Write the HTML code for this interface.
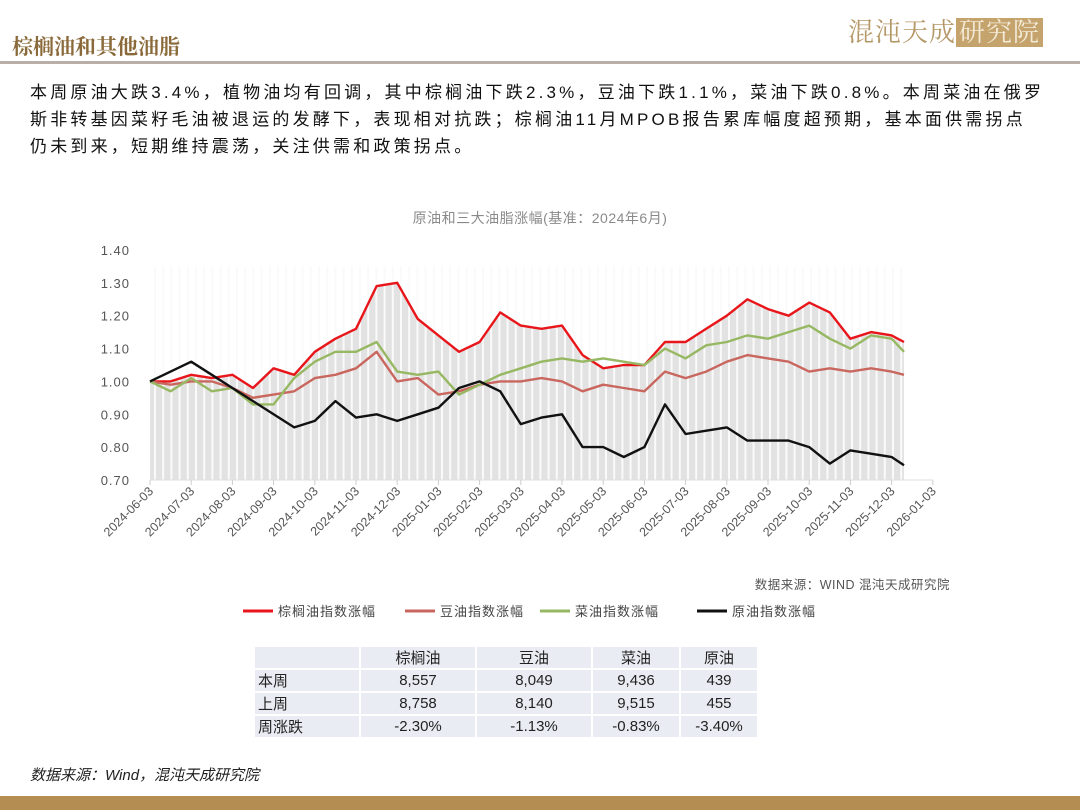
<!DOCTYPE html>
<html><head><meta charset="utf-8">
<style>
body{margin:0;width:1080px;height:810px;background:#fff;position:relative;overflow:hidden;font-family:"Liberation Sans","Noto Sans CJK SC",sans-serif;}
.abs{position:absolute;}
#title{left:12px;top:31px;font-size:21px;color:#8a6a3a;font-family:"Liberation Serif","Noto Serif CJK SC",serif;font-weight:bold;}
#logo{left:848px;top:12px;font-size:26px;color:#b59868;letter-spacing:1px;font-family:"Liberation Serif","Noto Serif CJK SC",serif;}
#logo span{background:#c4a46c;color:#f4ead8;padding:0 3px;}
#rule{left:0;top:61px;width:1080px;height:3px;background:#b8b0a6;}
#para{left:30px;top:79px;width:1040px;font-size:17px;line-height:27px;color:#111;white-space:nowrap;letter-spacing:3.2px;}
table{position:absolute;left:253px;top:645px;border-collapse:collapse;font-size:15px;color:#222;table-layout:fixed;}
td{background:#e9edf3;border:2px solid #fff;height:18px;padding:0;text-align:center;}
td.h{text-align:left;padding-left:3px;}
#src2{left:30px;top:764px;font-size:15px;font-style:italic;color:#222;}
#bottom{left:0;top:796px;width:1080px;height:14px;background:#b38d52;}
</style></head><body>
<div id="title" class="abs">棕榈油和其他油脂</div>
<div id="logo" class="abs">混沌天成<span>研究院</span></div>
<div id="rule" class="abs"></div>
<div id="para" class="abs">本周原油大跌3.4%，植物油均有回调，其中棕榈油下跌2.3%，豆油下跌1.1%，菜油下跌0.8%。本周菜油在俄罗<br>斯非转基因菜籽毛油被退运的发酵下，表现相对抗跌；棕榈油11月MPOB报告累库幅度超预期，基本面供需拐点<br>仍未到来，短期维持震荡，关注供需和政策拐点。</div>

<svg id="chart" class="abs" style="left:0;top:190px" width="1080" height="440"></svg>

<table>
<colgroup><col style="width:106px"><col style="width:116px"><col style="width:116px"><col style="width:88px"><col style="width:78px"></colgroup>
<tr><td></td><td>棕榈油</td><td>豆油</td><td>菜油</td><td>原油</td></tr>
<tr><td class="h">本周</td><td>8,557</td><td>8,049</td><td>9,436</td><td>439</td></tr>
<tr><td class="h">上周</td><td>8,758</td><td>8,140</td><td>9,515</td><td>455</td></tr>
<tr><td class="h">周涨跌</td><td>-2.30%</td><td>-1.13%</td><td>-0.83%</td><td>-3.40%</td></tr>
</table>
<div id="src2" class="abs">数据来源：Wind，混沌天成研究院</div>
<div id="bottom" class="abs"></div>

<script>
const monthOffsets=[0,0.5,1,1.5,2,2.5,3,3.5,4,4.5,5,5.5,6,6.5,7,7.5,8,8.5,9,9.5,10,10.5,11,11.5,12,12.5,13,13.5,14,14.5,15,15.5,16,16.5,17,17.5,18,18.3];
const palm=[1.00,1.00,1.02,1.01,1.02,0.98,1.04,1.02,1.09,1.13,1.16,1.29,1.30,1.19,1.14,1.09,1.12,1.21,1.17,1.16,1.17,1.08,1.04,1.05,1.05,1.12,1.12,1.16,1.20,1.25,1.22,1.20,1.24,1.21,1.13,1.15,1.14,1.12];
const soy=[1.00,0.99,1.00,1.00,0.98,0.95,0.96,0.97,1.01,1.02,1.04,1.09,1.00,1.01,0.96,0.97,0.99,1.00,1.00,1.01,1.00,0.97,0.99,0.98,0.97,1.03,1.01,1.03,1.06,1.08,1.07,1.06,1.03,1.04,1.03,1.04,1.03,1.02];
const rapeseed=[1.00,0.97,1.01,0.97,0.98,0.93,0.93,1.01,1.06,1.09,1.09,1.12,1.03,1.02,1.03,0.96,0.99,1.02,1.04,1.06,1.07,1.06,1.07,1.06,1.05,1.10,1.07,1.11,1.12,1.14,1.13,1.15,1.17,1.13,1.10,1.14,1.13,1.09];
const crude=[1.00,1.03,1.06,1.02,0.98,0.94,0.90,0.86,0.88,0.94,0.89,0.90,0.88,0.90,0.92,0.98,1.00,0.97,0.87,0.89,0.90,0.80,0.80,0.77,0.80,0.93,0.84,0.85,0.86,0.82,0.82,0.82,0.80,0.75,0.79,0.78,0.77,0.745];
const yTicks=[0.70,0.80,0.90,1.00,1.10,1.20,1.30,1.40];
const xLabels=["2024-06-03","2024-07-03","2024-08-03","2024-09-03","2024-10-03","2024-11-03","2024-12-03","2025-01-03","2025-02-03","2025-03-03","2025-04-03","2025-05-03","2025-06-03","2025-07-03","2025-08-03","2025-09-03","2025-10-03","2025-11-03","2025-12-03","2026-01-03"];
const seriesNames=["棕榈油指数涨幅","豆油指数涨幅","菜油指数涨幅","原油指数涨幅"];

const NS="http://www.w3.org/2000/svg";
const svg=document.getElementById('chart');
const X0=150,MW=41.2,Y0=290,YSC=328.6;
const xs=m=>X0+m*MW;
const ys=v=>Y0-(v-0.7)*YSC;
function mk(t,a,p){const e=document.createElementNS(NS,t);for(const k in a)e.setAttribute(k,a[k]);(p||svg).appendChild(e);return e;}

const title=mk('text',{x:540,y:33,'text-anchor':'middle','font-size':14,fill:'#8a8a8a','letter-spacing':'0.5'});
title.textContent='原油和三大油脂涨幅(基准：2024年6月)';



let d='M'+xs(monthOffsets[0])+','+ys(0.7);
monthOffsets.forEach((m,i)=>{d+=' L'+xs(m)+','+ys(palm[i]);});
d+=' L'+xs(monthOffsets[monthOffsets.length-1])+','+ys(0.7)+' Z';
const area=mk('path',{d:d,fill:'#e2e2e2'});


const xEnd=xs(monthOffsets[monthOffsets.length-1]);
for(let x=X0+5;x<xEnd;x+=8.2){mk('line',{x1:x,x2:x,y1:ys(1.35),y2:ys(0.7),stroke:'#fafafa','stroke-width':2});}

yTicks.forEach(v=>{const t=mk('text',{x:130,y:ys(v)+5,'text-anchor':'end','font-size':13,fill:'#555','letter-spacing':'1'});t.textContent=v.toFixed(2);

});
mk('line',{x1:X0,x2:xs(19),y1:Y0,y2:Y0,stroke:'#ddd'});
xLabels.forEach((l,i)=>{const x=xs(i);mk('line',{x1:x,x2:x,y1:Y0,y2:Y0+5,stroke:'#ccc'});
const t=mk('text',{x:x+4,y:Y0+12,'text-anchor':'end','font-size':12.5,fill:'#555',transform:`rotate(-45 ${x+4} ${Y0+12})`});t.textContent=l;

});

const cols=['#e8161b','#c9675f','#97b862','#111111'];
[palm,soy,rapeseed,crude].forEach((s,k)=>{
 const pts=monthOffsets.map((m,i)=>xs(m).toFixed(1)+','+ys(s[i]).toFixed(1)).join(' ');
 const p=mk('polyline',{points:pts,fill:'none',stroke:cols[k],'stroke-width':2.4,'stroke-linejoin':'round'});
 
 
});

const src=mk('text',{x:950,y:399,'text-anchor':'end','font-size':12.5,fill:'#555','letter-spacing':'0.5'});
src.textContent='数据来源：WIND 混沌天成研究院';



const lx=[243,405,540,697];
seriesNames.forEach((n,k)=>{
 const g=mk('g',{});
 
 
 mk('line',{x1:lx[k],x2:lx[k]+30,y1:421,y2:421,stroke:cols[k],'stroke-width':3},g);
 const t=mk('text',{x:lx[k]+35,y:426,'font-size':13,fill:'#444','letter-spacing':'1'},g);t.textContent=n;
});
</script>
</body></html>
